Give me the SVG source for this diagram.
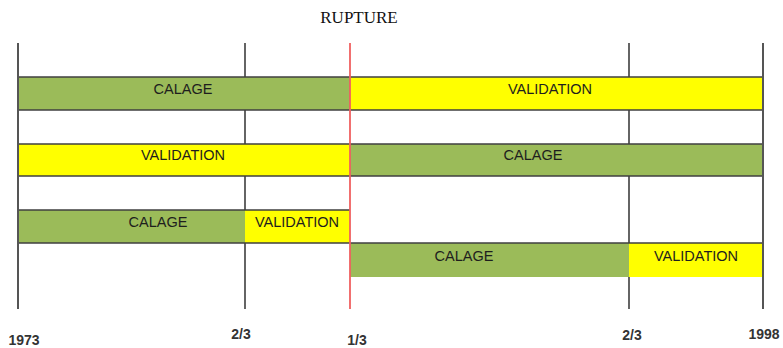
<svg xmlns="http://www.w3.org/2000/svg" width="783" height="348" viewBox="0 0 783 348">
  <style>
    .cal { fill: #9BBB59; }
    .val { fill: #FFFF00; }
    .edge { stroke: #404040; stroke-width: 1.5; fill: none; }
    .tick { stroke: #111; stroke-width: 1.3; }
    .outer { stroke: #555; stroke-width: 2; }
    .rupt { stroke: #F06060; stroke-width: 1.8; }
    .lbl { font-family: "Liberation Sans", Arial, sans-serif; font-size: 14.5px; fill: #1e1e1e; text-anchor: middle; }
    .ax { font-family: "Liberation Sans", Arial, sans-serif; font-size: 14px; font-weight: bold; fill: #333; text-anchor: middle; }
    .title { font-family: "Liberation Serif", "Times New Roman", serif; font-size: 17px; fill: #111; text-anchor: middle; }
  </style>

  <rect width="783" height="348" fill="#fff"/>

  <!-- inner period dividers sit underneath the bars -->
  <g id="connectors-under">
    <line class="tick" x1="245" y1="43" x2="245" y2="309"/>
    <line class="tick" x1="629" y1="43" x2="629" y2="309"/>
  </g>

  <!-- row 1 -->
  <g id="r1-calage">
    <rect class="cal" x="18" y="77" width="332" height="33"/>
    <text class="lbl" x="183" y="94">CALAGE</text>
  </g>
  <g id="r1-validation">
    <rect class="val" x="350" y="77" width="413" height="33"/>
    <text class="lbl" x="550" y="94">VALIDATION</text>
  </g>

  <!-- row 2 -->
  <g id="r2-validation">
    <rect class="val" x="18" y="144" width="332" height="32"/>
    <text class="lbl" x="183" y="160">VALIDATION</text>
  </g>
  <g id="r2-calage">
    <rect class="cal" x="350" y="144" width="413" height="32"/>
    <text class="lbl" x="533" y="160">CALAGE</text>
  </g>

  <!-- row 3 -->
  <g id="r3-calage">
    <rect class="cal" x="18" y="210" width="227" height="33"/>
    <text class="lbl" x="158" y="227">CALAGE</text>
  </g>
  <g id="r3-validation">
    <rect class="val" x="245" y="210" width="105" height="33"/>
    <text class="lbl" x="297" y="227">VALIDATION</text>
  </g>

  <!-- row 4 -->
  <g id="r4-calage">
    <rect class="cal" x="350" y="243" width="279" height="34"/>
    <text class="lbl" x="464" y="261">CALAGE</text>
  </g>
  <g id="r4-validation">
    <rect class="val" x="629" y="243" width="134" height="34"/>
    <text class="lbl" x="696" y="261">VALIDATION</text>
  </g>

  <!-- bar outlines, outer bounds and the rupture line -->
  <g id="connectors">
    <path class="edge" d="M18 77H763M18 110H763M18 144H763M18 176H763M18 210H350M18 243H763"/>
    <line class="outer" x1="18" y1="43" x2="18" y2="309"/>
    <line class="outer" x1="763" y1="43" x2="763" y2="309"/>
    <line class="rupt" x1="350" y1="43" x2="350" y2="309"/>
  </g>

  <g id="title">
    <text class="title" x="359" y="23">RUPTURE</text>
  </g>

  <g id="axis-labels">
    <text class="ax" x="24" y="345">1973</text>
    <text class="ax" x="241" y="339">2/3</text>
    <text class="ax" x="357" y="345">1/3</text>
    <text class="ax" x="632" y="340">2/3</text>
    <text class="ax" x="764" y="339">1998</text>
  </g>
</svg>
